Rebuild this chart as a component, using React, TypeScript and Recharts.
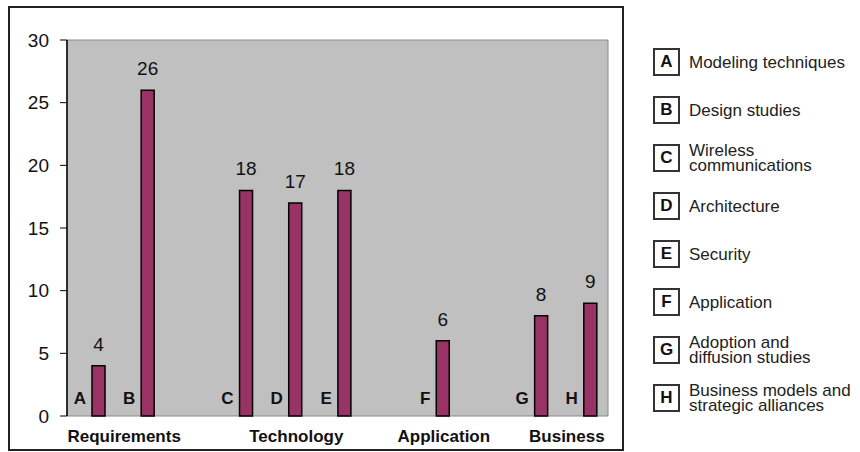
import React from 'react';
import { BarChart, Bar, XAxis, YAxis, CartesianGrid, ReferenceArea, LabelList } from 'recharts';

const letters = ['A', 'B', 'C', 'D', 'E', 'F', 'G', 'H'];
const counts = [4, 26, 18, 17, 18, 6, 8, 9];
const groups = ['Requirements', 'Requirements', 'Technology', 'Technology', 'Technology', 'Application', 'Business', 'Business'];
const topics = [
  'Modeling techniques',
  'Design studies',
  'Wireless\ncommunications',
  'Architecture',
  'Security',
  'Application',
  'Adoption and\ndiffusion studies',
  'Business models and\nstrategic alliances',
];
const yTicks = [0, 5, 10, 15, 20, 25, 30];

const FONT = '"Liberation Sans", Arial, sans-serif';

// an empty slot sits between two groups, as in the original sheet
type Row = { slot: string; letter: string; value: number | null; pad: number | null; group: string };
const rows: Row[] = [];
letters.forEach((letter, i) => {
  if (i > 0 && groups[i] !== groups[i - 1]) rows.push({ slot: 'gap' + i, letter: '', value: null, pad: null, group: '' });
  rows.push({ slot: letter, letter, value: counts[i], pad: 0, group: groups[i] });
});

const groupSize = (g: string) => rows.filter((r) => r.group === g).length;

const LetterLabel = (props: any) => {
  const { x, y, height, value } = props;
  if (!value) return null;
  return (
    <text x={x - 6} y={y + height - 12} textAnchor="end" fontSize={17} fontWeight="bold" fill="#111">
      {value}
    </text>
  );
};

// group name goes under the middle of its slots
const GroupTick = (props: any) => {
  const { x, y, payload, index } = props;
  const row = rows[index];
  if (!row || !row.group) return null;
  if (index > 0 && rows[index - 1].group === row.group) return null;
  const n = groupSize(row.group);
  const half = payload && payload.offset ? payload.offset : 0;
  return (
    <text x={x + (n - 1) * half + 8} y={y} dy="0.71em" textAnchor="middle" fontSize={17} fontWeight="bold" fill="#111">
      {row.group}
    </text>
  );
};

export default function App() {
  return (
    <div style={{ position: 'absolute', left: 0, top: 0, width: 860, height: 452, background: '#fff', fontFamily: FONT }}>
      <div
        style={{
          position: 'absolute',
          left: 8,
          top: 6,
          width: 616,
          height: 445,
          border: '2px solid #222',
          boxSizing: 'border-box',
        }}
      />
      <div style={{ position: 'absolute', left: 0, top: 0 }}>
        <BarChart
          width={625}
          height={452}
          data={rows}
          margin={{ top: 40, right: 17, bottom: 0, left: 0 }}
          barGap={0}
        >
          <CartesianGrid xAxisId="slot" fill="#c0c0c0" fillOpacity={1} horizontal={false} vertical={false} />
          <XAxis xAxisId="slot" dataKey="slot" hide />
          <XAxis
            xAxisId="group"
            dataKey="slot"
            interval={0}
            height={36}
            tickSize={0}
            tickMargin={14}
            axisLine={false}
            tickLine={false}
            tick={GroupTick}
          />
          <YAxis
            domain={[0, 30]}
            ticks={yTicks}
            interval={0}
            width={67}
            tickSize={7}
            tickMargin={11}
            axisLine={{ stroke: '#000', strokeWidth: 1.5 }}
            tickLine={{ stroke: '#000' }}
            tick={{ fill: '#111', fontSize: 19 }}
          />
          <ReferenceArea
            xAxisId="slot"
            x1={rows[0].slot}
            x2={rows[rows.length - 1].slot}
            y1={0}
            y2={30}
            fill="none"
            stroke="#8a8a8a"
            ifOverflow="visible"
          />
          <Bar xAxisId="slot" dataKey="pad" fill="none" barSize={13} isAnimationActive={false} />
          <Bar
            xAxisId="slot"
            dataKey="value"
            fill="#993366"
            stroke="#000"
            strokeWidth={1.5}
            barSize={13}
            isAnimationActive={false}
          >
            <LabelList dataKey="value" position="top" offset={15} fill="#111" fontSize={19} />
            <LabelList dataKey="letter" content={LetterLabel} />
          </Bar>
        </BarChart>
      </div>
      {topics.map((t, i) => (
        <div
          key={letters[i]}
          style={{
            position: 'absolute',
            left: 653,
            top: 48 + i * 48,
            height: 28,
            display: 'flex',
            alignItems: 'center',
          }}
        >
          <div
            style={{
              width: 27,
              height: 28,
              border: '2px solid #333',
              boxSizing: 'border-box',
              display: 'flex',
              alignItems: 'center',
              justifyContent: 'center',
              fontWeight: 'bold',
              fontSize: 17,
              color: '#111',
            }}
          >
            {letters[i]}
          </div>
          <div style={{ marginLeft: 9, fontSize: 17, lineHeight: '15px', color: '#222', whiteSpace: 'pre-line' }}>{t}</div>
        </div>
      ))}
    </div>
  );
}
